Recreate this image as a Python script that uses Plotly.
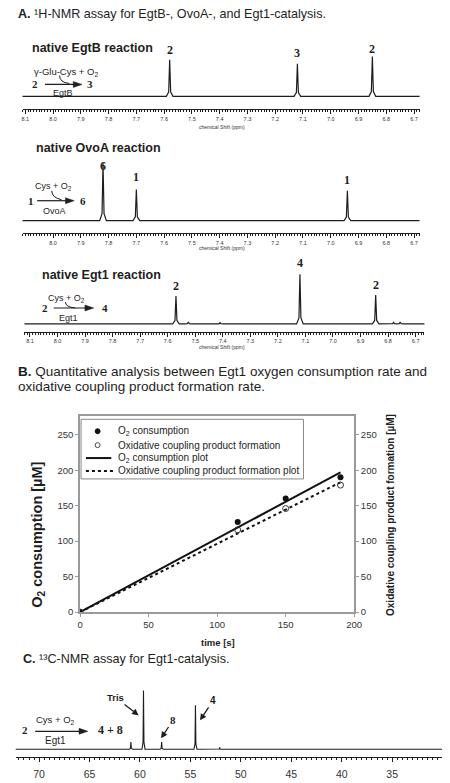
import plotly.graph_objects as go

W, H = 450, 783
SANS = "Liberation Sans, Arial, sans-serif"
SERIF = "Liberation Serif, Times New Roman, serif"
INK = "#1e1e1e"
GRAY = "#9a9a9a"


def X(px):
    return px / W


def Y(py):
    return 1 - py / H


# ---------------- data ----------------
# Panel A: 1H-NMR peaks (ppm, relative intensity)
egtb_ppm = [7.58, 7.12, 6.85]
egtb_int = [0.92, 0.82, 1.00]
egtb_lab = ["2", "3", "2"]

ovoa_ppm = [7.82, 7.70, 6.94]
ovoa_int = [1.45, 0.78, 0.75]
ovoa_lab = ["6", "1", "1"]

egt1_ppm = [7.57, 7.525, 7.41, 7.12, 6.845, 6.78, 6.756]
egt1_int = [0.70, 0.05, 0.03, 1.25, 0.73, 0.04, 0.05]
egt1_lab_ppm = [7.57, 7.12, 6.845]
egt1_lab_int = [0.70, 1.25, 0.73]
egt1_lab = ["2", "4", "2"]

h_ticks_1 = [8.1, 8.0, 7.9, 7.8, 7.7, 7.6, 7.5, 7.4, 7.3, 7.2, 7.1, 7.0, 6.9, 6.8, 6.7]
h_ticks_2 = [8.0, 7.9, 7.8, 7.7, 7.6, 7.5, 7.4, 7.3, 7.2, 7.1, 7.0, 6.9, 6.8, 6.7]

# Panel B: kinetics
time_s = [0, 115, 150, 190]
o2_uM = [0, 127, 160, 190]
prod_uM = [0, 116, 146, 179]
fit_t = [0, 190]
o2_fit = [0, 197]
prod_fit = [0, 183]
b_xticks = [0, 50, 100, 150, 200]
b_yticks = [0, 50, 100, 150, 200, 250]
b_names = ["O<sub>2</sub> consumption", "Oxidative coupling product formation",
           "O<sub>2</sub> consumption plot", "Oxidative coupling product formation plot"]

# Panel C: 13C-NMR peaks
c_ppm = [60.9, 59.65, 57.85, 54.5, 52.1]
c_int = [0.12, 1.00, 0.12, 0.75, 0.03]
c_ticks = [70, 65, 60, 55, 50, 45, 40, 35, 30]


# ---------------- helpers ----------------
def spectrum(ppm, inten, hi, lo, w):
    pairs = sorted(zip(ppm, inten), reverse=True)
    xs, ys = [hi], [0]
    for p, h in pairs:
        xs += [p + w, p + w * 0.3, p, p - w * 0.3, p - w]
        ys += [0, h * 0.12, h, h * 0.12, 0]
    xs.append(lo)
    ys.append(0)
    return xs, ys


fig = go.Figure()
ann = []
shapes = []


def txt(text, x, y, size, bold=False, family=SANS, xanchor="center", yanchor="middle",
        color=INK, angle=0):
    if bold:
        text = f"<b>{text}</b>"
    ann.append(dict(text=text, x=X(x), y=Y(y), xref="paper", yref="paper", showarrow=False,
                    font=dict(size=size, family=family, color=color), xanchor=xanchor,
                    yanchor=yanchor, textangle=angle))


def pline(x0, y0, x1, y1, width=1.2, color=INK, dash="solid"):
    shapes.append(dict(type="line", xref="paper", yref="paper", x0=X(x0), y0=Y(y0),
                       x1=X(x1), y1=Y(y1), line=dict(color=color, width=width, dash=dash)))


def harrow(x0, x1, y):
    pline(x0, y, x1 - 6, y, 1.2)
    shapes.append(dict(type="path", xref="paper", yref="paper",
                       path=f"M {X(x1 - 9)},{Y(y - 3)} L {X(x1)},{Y(y)} L {X(x1 - 9)},{Y(y + 3)} Z",
                       fillcolor=INK, line=dict(color=INK, width=0.5)))


def curve(x0, y0, xc, yc, x1, y1):
    shapes.append(dict(type="path", xref="paper", yref="paper",
                       path=f"M {X(x0)},{Y(y0)} Q {X(xc)},{Y(yc)} {X(x1)},{Y(y1)}",
                       line=dict(color=INK, width=1)))


def nmr_x(domain, rng, anchor, tickvals):
    return dict(domain=domain, range=rng, anchor=anchor, showline=True, linecolor=INK,
                linewidth=1, tickmode="array", tickvals=tickvals,
                ticktext=[f"{v:.1f}" for v in tickvals], ticks="outside", ticklen=4,
                tickwidth=1, tickcolor=INK,
                minor=dict(tickmode="linear", tick0=0, dtick=0.01, ticks="outside",
                           ticklen=2, tickwidth=0.8, tickcolor=INK),
                tickfont=dict(size=5.5, family=SANS, color="#333"), showgrid=False,
                zeroline=False, fixedrange=True)


def hidden_y(domain, rng, anchor):
    return dict(domain=domain, range=rng, anchor=anchor, visible=False, showgrid=False,
                zeroline=False, fixedrange=True)


# ---------------- Panel A spectra ----------------
xs, ys = spectrum(egtb_ppm, egtb_int, 8.12, 6.66, 0.012)
fig.add_trace(go.Scatter(x=xs, y=ys, mode="lines", line=dict(color=INK, width=1.2),
                         xaxis="x", yaxis="y", showlegend=False, hoverinfo="skip"))
xs, ys = spectrum(ovoa_ppm, ovoa_int, 8.12, 6.66, 0.012)
fig.add_trace(go.Scatter(x=xs, y=ys, mode="lines", line=dict(color=INK, width=1.2),
                         xaxis="x2", yaxis="y2", showlegend=False, hoverinfo="skip"))
xs, ys = spectrum(egt1_ppm, egt1_int, 8.13, 6.66, 0.012)
fig.add_trace(go.Scatter(x=xs, y=ys, mode="lines", line=dict(color=INK, width=1.2),
                         xaxis="x3", yaxis="y3", showlegend=False, hoverinfo="skip"))

# peak labels
for axn, ppm, inten, labs, shifts in [
    ("", egtb_ppm, egtb_int, egtb_lab, [10, 11, 8]),
    ("2", ovoa_ppm, ovoa_int, ovoa_lab, [-3, 13, 11]),
    ("3", egt1_lab_ppm, egt1_lab_int, egt1_lab, [10, 11, 10]),
]:
    for p, h, lab, s in zip(ppm, inten, labs, shifts):
        ann.append(dict(text=f"<b>{lab}</b>", x=p, y=h, xref="x" + axn, yref="y" + axn,
                        showarrow=False, yanchor="middle", yshift=s,
                        font=dict(size=12, family=SERIF, color=INK)))

# ---------------- Panel B ----------------
fig.add_trace(go.Scatter(x=fit_t, y=o2_fit, mode="lines", line=dict(color="#111", width=2),
                         name=b_names[2], xaxis="x4", yaxis="y4", showlegend=False))
fig.add_trace(go.Scatter(x=time_s, y=o2_uM, mode="markers",
                         marker=dict(symbol="circle", size=6, color="#111"),
                         name=b_names[0], xaxis="x4", yaxis="y4", showlegend=False))
fig.add_trace(go.Scatter(x=fit_t, y=prod_fit, mode="lines",
                         line=dict(color="#111", width=2, dash="dot"),
                         name=b_names[3], xaxis="x4", yaxis="y5", showlegend=False))
fig.add_trace(go.Scatter(x=time_s, y=prod_uM, mode="markers",
                         marker=dict(symbol="circle-open", size=6, color="#333",
                                     line=dict(width=1, color="#333")),
                         name=b_names[1], xaxis="x4", yaxis="y5", showlegend=False))

# key box for panel B
shapes.append(dict(type="rect", xref="paper", yref="paper", x0=X(80), x1=X(308),
                   y0=Y(482), y1=Y(422), line=dict(color="#888", width=1),
                   fillcolor="rgba(255,255,255,0)"))
key_y = [434, 448, 461, 474]
shapes.append(dict(type="circle", xref="paper", yref="paper", x0=X(94.5), x1=X(99.5),
                   y0=Y(key_y[0] + 2.5), y1=Y(key_y[0] - 2.5), fillcolor="#111",
                   line=dict(color="#111", width=1)))
shapes.append(dict(type="circle", xref="paper", yref="paper", x0=X(94.5), x1=X(99.5),
                   y0=Y(key_y[1] + 2.5), y1=Y(key_y[1] - 2.5), fillcolor="white",
                   line=dict(color="#444", width=1)))
pline(85, key_y[2], 111, key_y[2], 2, "#111")
pline(85, key_y[3], 114, key_y[3], 2, "#111", "dot")
for ky, name in zip(key_y, b_names):
    txt(name, 116, ky, 10, xanchor="left")

# ---------------- Panel C ----------------
xs, ys = spectrum(c_ppm, c_int, 72.4, 29.9, 0.15)
fig.add_trace(go.Scatter(x=xs, y=ys, mode="lines", line=dict(color=INK, width=1.1),
                         xaxis="x6", yaxis="y6", showlegend=False, hoverinfo="skip"))

# ---------------- axes ----------------
b_ax = dict(showline=True, linecolor=GRAY, linewidth=1.5, ticks="outside", ticklen=3,
            tickcolor=GRAY, tickwidth=1, showgrid=False, zeroline=False,
            tickfont=dict(size=9.5, family=SANS, color="#333"), fixedrange=True)

fig.update_layout(
    width=W, height=H, margin=dict(l=0, r=0, t=0, b=0),
    paper_bgcolor="white", plot_bgcolor="white",
    font=dict(family=SANS, color=INK),
    xaxis=nmr_x([X(20), X(427)], [8.11, 6.68], "y", h_ticks_1),
    yaxis=hidden_y([Y(110), Y(40)], [-0.325, 1.425], "x"),
    xaxis2=nmr_x([X(20), X(427)], [8.11, 6.68], "y2", h_ticks_2),
    yaxis2=hidden_y([Y(235), Y(160)], [-0.325, 1.55], "x2"),
    xaxis3=nmr_x([X(22), X(432)], [8.12, 6.668], "y3", h_ticks_1),
    yaxis3=hidden_y([Y(334), Y(268)], [-0.2, 1.45], "x3"),
    xaxis4=dict(domain=[X(79), X(360)], range=[0, 200], anchor="y4", mirror=True,
                tickvals=b_xticks, **b_ax),
    yaxis4=dict(domain=[Y(616), Y(419)], range=[0, 276], anchor="x4",
                tickvals=b_yticks, **b_ax),
    yaxis5=dict(overlaying="y4", side="right", anchor="x4", range=[0, 276],
                tickvals=b_yticks, **b_ax),
    xaxis6=dict(domain=[X(13), 1.0], range=[72.32, 30.06], anchor="y6", showline=True,
                linecolor=INK, linewidth=1, tickvals=c_ticks, ticks="outside", ticklen=4,
                tickwidth=1, tickcolor=INK, ticklabelstandoff=3,
                minor=dict(tickmode="linear", tick0=0, dtick=0.5, ticks="outside",
                           ticklen=2, tickwidth=0.8, tickcolor=INK),
                tickfont=dict(size=10.5, family=SANS, color="#333"), showgrid=False,
                zeroline=False, fixedrange=True),
    yaxis6=hidden_y([Y(762), Y(688)], [-0.136, 1.12], "x6"),
    showlegend=False,
)

# ---------------- text: panel A ----------------
txt("<b>A.</b> ¹H-NMR assay for EgtB-, OvoA-, and Egt1-catalysis.", 13, 14, 12.6,
    xanchor="left")
txt("native EgtB reaction", 28, 48, 12.5, bold=True, xanchor="left")
txt("native OvoA reaction", 32, 149, 12.5, bold=True, xanchor="left")
txt("native Egt1 reaction", 38, 277, 12.5, bold=True, xanchor="left")
for yy in (128, 250, 349):
    txt("chemical Shift (ppm)", 224, yy, 5, color="#333")

# EgtB scheme
txt("γ-Glu-Cys + O<sub>2</sub>", 65, 72, 9.5)
txt("2", 33, 85, 11, bold=True, family=SERIF)
harrow(43, 81, 85)
txt("3", 89, 85, 11, bold=True, family=SERIF)
txt("EgtB", 62, 94, 9)
curve(58, 76, 58, 83, 68, 84)

# OvoA scheme
txt("Cys + O<sub>2</sub>", 52, 188, 9)
txt("1", 29, 202, 11, bold=True, family=SERIF)
harrow(35, 73, 202)
txt("6", 82, 202, 11, bold=True, family=SERIF)
txt("OvoA", 53, 212, 9)
curve(50, 192, 50, 199, 60, 201)

# Egt1 scheme
txt("Cys + O<sub>2</sub>", 65, 300, 9)
txt("2", 43, 310, 11, bold=True, family=SERIF)
harrow(52, 93, 310)
txt("4", 105, 310, 11, bold=True, family=SERIF)
txt("Egt1", 67, 320, 9)
curve(64, 304, 64, 309, 74, 310)

# ---------------- text: panel B ----------------
txt("<b>B.</b> Quantitative analysis between Egt1 oxygen consumption rate and", 13, 374,
    13.5, xanchor="left")
txt("oxidative coupling product formation rate.", 13, 389, 13.5, xanchor="left")
txt("O<sub>2</sub> consumption [µM]", 35, 538, 14.5, bold=True, angle=-90)
txt("Oxidative coupling product formation [µM]", 397, 518, 10, bold=True, angle=-90)
txt("time [s]", 220, 647, 9.5, bold=True)

# ---------------- text: panel C ----------------
txt("<b>C.</b> ¹³C-NMR assay for Egt1-catalysis.", 18, 663, 12.6, xanchor="left")
txt("2", 23, 735, 11, bold=True, family=SERIF)
harrow(33, 87, 736)
txt("4 + 8", 110, 735, 12, bold=True, family=SERIF)
txt("Cys + O<sub>2</sub>", 54, 725, 9.5)
txt("Egt1", 54, 745, 10)

for label, tip, tail, fam, size in [
    ("Tris", (139, 720), (116, 702), SANS, 9.5),
    ("8", (162, 743), (174, 725), SERIF, 11),
    ("4", (202, 725), (215, 705), SANS, 10),
]:
    ann.append(dict(text=f"<b>{label}</b>", x=X(tip[0]), y=Y(tip[1]), xref="paper",
                    yref="paper", ax=tail[0] - tip[0], ay=tail[1] - tip[1], showarrow=True,
                    arrowhead=2, arrowsize=1.0, arrowwidth=1.3, arrowcolor=INK,
                    font=dict(size=size, family=fam, color=INK)))

fig.update_layout(annotations=ann, shapes=shapes)
fig.write_html("out.html", config={"displayModeBar": False},
               post_script="document.body.style.margin='0';"
                           "document.body.style.overflow='hidden';")
